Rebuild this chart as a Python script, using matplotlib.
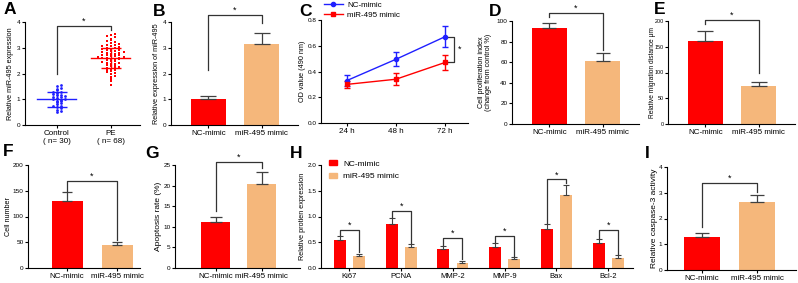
import matplotlib
matplotlib.use("Agg")
import matplotlib.pyplot as plt
from matplotlib.patches import Patch
from matplotlib.lines import Line2D
import numpy as np

plt.rcParams['font.family'] = ['Liberation Sans', 'DejaVu Sans']
plt.rcParams['font.size'] = 5.5
plt.rcParams['axes.labelsize'] = 5.2
plt.rcParams['ytick.labelsize'] = 4.6
plt.rcParams['axes.linewidth'] = 0.8
plt.rcParams['xtick.major.width'] = 0.8
plt.rcParams['ytick.major.width'] = 0.8
plt.rcParams['xtick.major.size'] = 2.2
plt.rcParams['ytick.major.size'] = 2.2
plt.rcParams['xtick.major.pad'] = 1.5
plt.rcParams['ytick.major.pad'] = 1.0

RED = '#ff0000'
TAN = '#f5b77b'
BLUE = '#2020ff'
ERR = '#404040'
BRK = '#333333'

groups = ["NC-mimic", "miR-495 mimic"]

# A - scatter
control_vals = [0.52, 0.55, 0.60, 0.65, 0.68, 0.72, 0.75, 0.80, 0.85, 0.88,
                0.92, 0.95, 0.98, 1.00, 1.02, 1.05, 1.08, 1.10, 1.12, 1.15,
                1.18, 1.20, 1.25, 1.28, 1.30, 1.35, 1.40, 1.45, 1.50, 1.55]
pe_vals = [1.55, 1.72, 1.80, 1.88, 1.92, 1.98, 2.02, 2.05, 2.08, 2.12,
           2.15, 2.18, 2.20, 2.22, 2.25, 2.28, 2.30, 2.32, 2.35, 2.38,
           2.40, 2.42, 2.45, 2.47, 2.50, 2.52, 2.55, 2.57, 2.58, 2.60,
           2.62, 2.63, 2.65, 2.67, 2.68, 2.70, 2.72, 2.73, 2.75, 2.77,
           2.78, 2.80, 2.82, 2.84, 2.86, 2.88, 2.90, 2.92, 2.94, 2.96,
           2.98, 3.00, 3.02, 3.05, 3.08, 3.10, 3.12, 3.15, 3.18, 3.22,
           3.25, 3.30, 3.35, 3.40, 3.45, 3.50, 3.55, 2.60]
a_means = [1.0, 2.6]
a_sd = [0.29, 0.40]
a_labels = ["Control\n( n= 30)", "PE\n( n= 68)"]

# B
b_vals = [1.0, 3.15]
b_err = [0.13, 0.42]

# C
c_times = ["24 h", "48 h", "72 h"]
c_nc = [0.33, 0.495, 0.67]
c_nc_err = [0.04, 0.055, 0.08]
c_mir = [0.30, 0.34, 0.47]
c_mir_err = [0.025, 0.045, 0.06]

# D
d_vals = [93.5, 61]
d_err = [4.5, 7.5]

# E
e_vals = [161, 73]
e_err = [20, 9.5]

# F
f_vals = [131, 44]
f_err = [17, 7]

# G
g_vals = [11.2, 20.5]
g_err = [1.2, 2.7]

# H
h_genes = ["Ki67", "PCNA", "MMP-2", "MMP-9", "Bax", "Bcl-2"]
h_nc = [0.54, 0.85, 0.375, 0.41, 0.75, 0.49]
h_nc_err = [0.09, 0.13, 0.055, 0.07, 0.10, 0.08]
h_mir = [0.24, 0.40, 0.10, 0.175, 1.42, 0.20]
h_mir_err = [0.04, 0.06, 0.04, 0.035, 0.20, 0.05]
h_brk = [0.74, 1.11, 0.59, 0.63, 1.72, 0.74]

# I
i_vals = [1.27, 2.65]
i_err = [0.15, 0.26]

W, H = 798, 283
fig = plt.figure(figsize=(W / 100, H / 100), dpi=100)


def make_ax(x0, x1, ytop, ybot, label, label_x):
    ax = fig.add_axes([x0 / W, 1 - ybot / H, (x1 - x0) / W, (ybot - ytop) / H])
    ax.spines['top'].set_visible(False)
    ax.spines['right'].set_visible(False)
    ax.set_ylabel(label, va='center', linespacing=1.1)
    ax.yaxis.set_label_coords((label_x - x0) / (x1 - x0), 0.5)
    return ax


def bracket(ax, x1, x2, y1, y2, h, size=6.5):
    ax.plot([x1, x1, x2, x2], [y1, h, h, y2], color=BRK, lw=0.9, clip_on=False)
    ax.text((x1 + x2) / 2, h, '*', ha='center', va='bottom', fontsize=size)


def two_bars(ax, vals, err, ylim, ticks, cap, width=0.66, xlim=(-0.7, 1.68)):
    ax.bar([0, 1], vals, width=width, color=[RED, TAN])
    ax.errorbar([0, 1], vals, yerr=[[0, 0], err], fmt='none', ecolor=ERR,
                elinewidth=0.9, capsize=cap, capthick=0.9)
    ax.set_xlim(*xlim)
    ax.set_ylim(*ylim)
    ax.set_yticks(ticks)
    ax.set_xticks([0, 1], groups, fontsize=5.8)


def letter(x, y, s):
    fig.text(x / W, 1 - y / H, s, fontsize=12.5, weight='bold', ha='center', va='center')


def swarm(vals, bin_w, step):
    vals = np.asarray(vals)
    offs = np.zeros(len(vals))
    bins = {}
    for i in np.argsort(vals):
        b = int(round(vals[i] / bin_w))
        k = bins.get(b, 0)
        bins[b] = k + 1
        sign = 1 if k % 2 else -1
        offs[i] = 0 if k == 0 else sign * ((k + 1) // 2) * step
    return offs


# ---- A
ax = make_ax(25, 140, 22, 125, "Relative miR-495 expression", 11)
ax.scatter(0 + swarm(control_vals, 0.09, 0.08), control_vals, s=4, color=BLUE,
           marker='o', linewidths=0, zorder=3)
ax.scatter(1 + swarm(pe_vals, 0.1, 0.08), pe_vals, s=4, color=RED,
           marker='s', linewidths=0, zorder=3)
for xi, m, sd, c in zip([0, 1], a_means, a_sd, [BLUE, RED]):
    ax.plot([xi - 0.36, xi + 0.36], [m, m], color=c, lw=1.0, zorder=4)
    ax.errorbar([xi], [m], yerr=[sd], fmt='none', ecolor=c, elinewidth=1.0,
                capsize=7, capthick=1.0, zorder=4)
ax.set_xlim(-0.59, 1.54)
ax.set_ylim(0, 4)
ax.set_yticks([0, 1, 2, 3, 4])
ax.set_xticks([0, 1], a_labels, fontsize=5.8)
bracket(ax, 0, 1, 2.0, 3.7, 3.85)

# ---- B
ax = make_ax(171, 298, 22, 125, "Relative expression of miR-495", 157)
two_bars(ax, b_vals, b_err, (0, 4), [0, 1, 2, 3, 4], 6)
bracket(ax, 0, 1, 2.13, 3.96, 4.27)

# ---- C
ax = make_ax(321, 468, 20, 123, "OD value (490 nm)", 302.5)
xs = np.arange(len(c_times))
ax.errorbar(xs, c_nc, yerr=c_nc_err, color=BLUE, lw=1.0, marker='o', ms=3,
            capsize=2.5, capthick=1.0, elinewidth=1.0)
ax.errorbar(xs, c_mir, yerr=c_mir_err, color=RED, lw=1.0, marker='s', ms=3,
            capsize=2.5, capthick=1.0, elinewidth=1.0)
ax.set_xlim(-0.53, 2.47)
ax.set_ylim(0, 0.8)
ax.set_yticks([0, 0.2, 0.4, 0.6, 0.8], ["0.0", "0.2", "0.4", "0.6", "0.8"])
ax.set_xticks(xs, c_times, fontsize=5.8)
bx = 2.0 + 9 / 49
ax.plot([2.04, bx, bx, 2.04], [c_nc[2], c_nc[2], c_mir[2], c_mir[2]],
        color=BRK, lw=0.9, clip_on=False)
ax.text(bx + 0.07, (c_nc[2] + c_mir[2]) / 2, '*', ha='left', va='center', fontsize=6.5)
handles = [Line2D([], [], color=BLUE, marker='o', ms=3, lw=1.0),
           Line2D([], [], color=RED, marker='s', ms=3, lw=1.0)]
ax.legend(handles, groups, loc='upper left', bbox_to_anchor=(324 / W, 1 - 1 / H),
          bbox_transform=fig.transFigure, frameon=False, fontsize=5.8,
          handlelength=2.3, handletextpad=0.6, labelspacing=0.35,
          borderpad=0, borderaxespad=0)

# ---- D
ax = make_ax(512, 639, 21, 124, "Cell proliferation index\n(change from control %)", 485)
two_bars(ax, d_vals, d_err, (0, 100), [0, 20, 40, 60, 80, 100], 4.7)
bracket(ax, 0, 1, 104, 71.5, 108)

# ---- E
ax = make_ax(668, 795, 21, 124, "Relative migration distance μm", 652)
ax.yaxis.label.set_fontsize(4.8)
two_bars(ax, e_vals, e_err, (0, 200), [0, 50, 100, 150, 200], 6)
ax.tick_params(axis='y', labelsize=3.9, pad=0.6)
bracket(ax, 0, 1, 194, 100, 202)

# ---- F
ax = make_ax(28, 140, 165, 268, "Cell number", 8.5)
two_bars(ax, f_vals, f_err, (0, 200), [0, 50, 100, 150, 200], 3.6,
         width=0.62, xlim=(-0.78, 1.46))
bracket(ax, 0, 1, 150, 54, 169)

# ---- G
ax = make_ax(175, 300, 165, 268, "Apoptosis rate (%)", 158.5)
ax.yaxis.label.set_fontsize(6.0)
two_bars(ax, g_vals, g_err, (0, 25), [0, 5, 10, 15, 20, 25], 4.3,
         width=0.63, xlim=(-0.89, 1.83))
bracket(ax, 0, 1, 13.9, 24.2, 25.8)

# ---- H
ax = make_ax(321, 633, 165, 268, "Relative protien expression", 302.5)
gx = np.arange(len(h_genes))
off = 0.184
bw = 0.23
ax.bar(gx - off, h_nc, width=bw, color=RED)
ax.bar(gx + off, h_mir, width=bw, color=TAN)
ax.errorbar(gx - off, h_nc, yerr=[np.zeros(len(gx)), h_nc_err], fmt='none',
            ecolor=ERR, elinewidth=0.8, capsize=2.5, capthick=0.8)
ax.errorbar(gx + off, h_mir, yerr=[np.zeros(len(gx)), h_mir_err], fmt='none',
            ecolor=ERR, elinewidth=0.8, capsize=2.5, capthick=0.8)
for i in range(len(h_genes)):
    bracket(ax, i - off, i + off, h_nc[i] + h_nc_err[i] + 0.02,
            h_mir[i] + h_mir_err[i] + 0.03, h_brk[i])
ax.set_xlim(-0.55, 5.48)
ax.set_ylim(0, 2)
ax.set_yticks([0, 0.5, 1.0, 1.5, 2.0], ["0.0", "0.5", "1.0", "1.5", "2.0"])
ax.set_xticks(gx, h_genes, fontsize=5.5)
handles = [Patch(color=RED), Patch(color=TAN)]
ax.legend(handles, groups, loc='upper left', bbox_to_anchor=(329 / W, 1 - 160 / H),
          bbox_transform=fig.transFigure, frameon=False, fontsize=6,
          handlelength=1.0, handleheight=0.6, handletextpad=0.7, labelspacing=0.6,
          borderpad=0, borderaxespad=0)

# ---- I
ax = make_ax(667, 796, 167, 270, "Relative caspase-3 activity", 654)
ax.yaxis.label.set_fontsize(6.0)
two_bars(ax, i_vals, i_err, (0, 4), [0, 1, 2, 3, 4], 4.7,
         width=0.65, xlim=(-0.64, 1.71))
bracket(ax, 0, 1, 1.66, 3.04, 3.37)

for s, x, y in [("A", 10, 10), ("B", 159, 11), ("C", 306, 11), ("D", 495, 11),
                ("E", 660, 10), ("F", 8, 152), ("G", 152, 153), ("H", 296, 153),
                ("I", 647, 153)]:
    letter(x, y, s)

fig.savefig("out.png", dpi=100)
